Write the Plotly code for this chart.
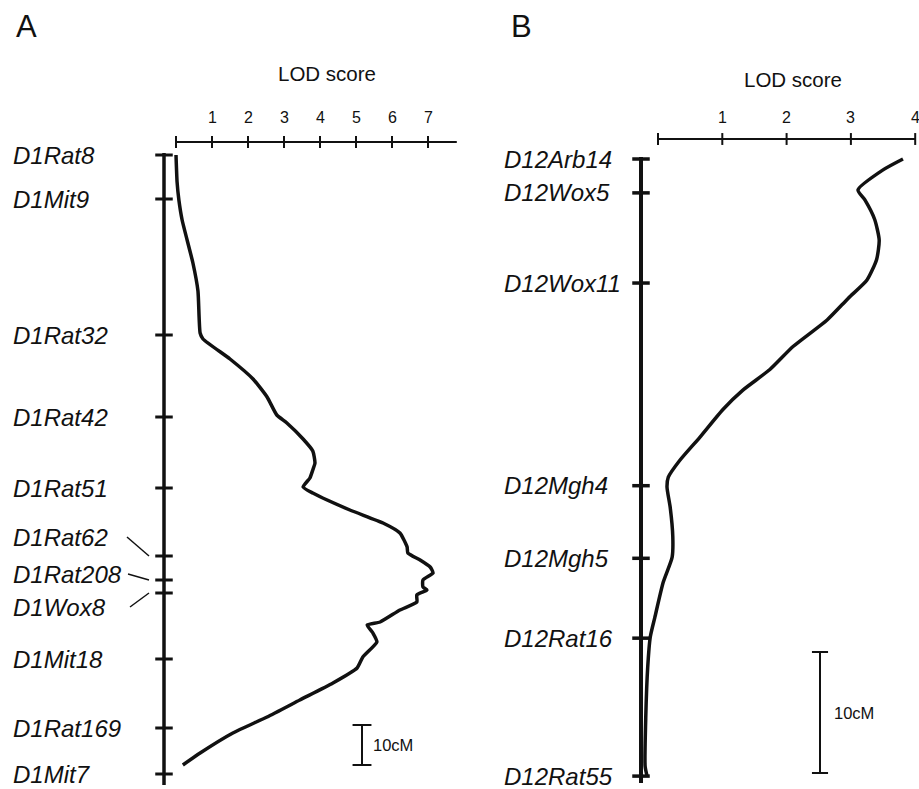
import plotly.graph_objects as go

# ---------------- data: panel A (chromosome 1) ----------------
markers_A = ["D1Rat8", "D1Mit9", "D1Rat32", "D1Rat42", "D1Rat51", "D1Rat62",
             "D1Rat208", "D1Wox8", "D1Mit18", "D1Rat169", "D1Mit7"]
marker_cM_A = [0, 11, 45, 65.5, 83.25, 100.25, 106.25, 109.5, 126, 143.25, 154.75]

curve_cM_A = [0, 6.75, 11.25, 16.25, 27, 34, 44.5, 46, 51, 56, 60.5, 65, 67, 71, 74, 77,
              78.75, 80.75, 83, 84.5, 88.75, 92, 94.5, 98, 99.5, 101.25, 103, 104.5,
              106.25, 108, 108.75, 110, 111.75, 113.75, 116.75, 117.5, 119.5, 121.75,
              125.5, 128.25, 132, 136.25, 140.5, 144.5, 149.5, 152.5]
curve_lod_A = [0.0, 0.03, 0.08, 0.17, 0.47, 0.61, 0.67, 0.75, 1.5, 2.14, 2.53, 2.8, 3.08,
               3.53, 3.8, 3.86, 3.8, 3.72, 3.53, 3.8, 4.83, 5.75, 6.22, 6.42, 6.44, 6.78,
               7.06, 7.14, 6.86, 6.86, 6.97, 6.69, 6.69, 6.22, 5.67, 5.31, 5.47, 5.58,
               5.19, 5.03, 4.36, 3.44, 2.53, 1.58, 0.67, 0.19]
lod_ticks_A = [0, 1, 2, 3, 4, 5, 6, 7]
lod_ticklabels_A = ["", "1", "2", "3", "4", "5", "6", "7"]
lod_axis_max_A = 7.8

# ---------------- data: panel B (chromosome 12) ----------------
markers_B = ["D12Arb14", "D12Wox5", "D12Wox11", "D12Mgh4", "D12Mgh5", "D12Rat16", "D12Rat55"]
marker_cM_B = [0, 2.8, 10.25, 27, 33, 39.6, 51]

curve_cM_B = [0, 0.9, 2.56, 3.4, 5.0, 6.7, 8.3, 10, 11.5, 13.3, 15.5, 17.4, 19.1, 20.7,
              23, 24.9, 26.3, 27.1, 28.8, 31.2, 32.9, 35, 37.9, 39.5, 42, 46.1, 50.2, 51]
curve_lod_B = [3.81, 3.5, 3.11, 3.22, 3.37, 3.44, 3.4, 3.25, 2.96, 2.63, 2.1, 1.74, 1.32,
               1.01, 0.65, 0.34, 0.16, 0.14, 0.19, 0.23, 0.22, 0.08, -0.05, -0.12, -0.16,
               -0.19, -0.2, -0.17]
lod_ticks_B = [0, 1, 2, 3, 4]
lod_ticklabels_B = ["", "1", "2", "3", "4"]
lod_axis_max_B = 4.0

scale_cM = 10

# ---------------- layout geometry (pixels) ----------------
W, H = 919, 789
FONT = "Liberation Sans, Arial, Helvetica, sans-serif"

# panel A mapping: LOD 0 at px 176, 36 px per LOD; cM 0 at px 155, 4 px per cM
A_X0, A_SX, A_Y0, A_SY = 176, 36.0, 155, 4.0
# panel B mapping: LOD 0 at px 658, 64.3 px per LOD; cM 0 at px 159, 12.1 px per cM
B_X0, B_SX, B_Y0, B_SY = 658, 64.3, 159, 12.1


def ax(px): return (px - A_X0) / A_SX
def ay(py): return (py - A_Y0) / A_SY
def bx(px): return (px - B_X0) / B_SX
def by(py): return (py - B_Y0) / B_SY


fig = go.Figure()
BLACK = "#111111"


def line(xs, ys, width, xa, ya, color=BLACK, shape="linear", smoothing=None):
    ld = dict(color=color, width=width, shape=shape)
    if smoothing is not None:
        ld["smoothing"] = smoothing
    fig.add_trace(go.Scatter(x=xs, y=ys, mode="lines", xaxis=xa, yaxis=ya,
                             line=ld, hoverinfo="skip",
                             showlegend=False, cliponaxis=False))


def ticks(xs, ys, symbol, size, width, xa, ya):
    fig.add_trace(go.Scatter(x=xs, y=ys, mode="markers", xaxis=xa, yaxis=ya,
                             marker=dict(symbol=symbol, size=size,
                                         line=dict(color=BLACK, width=width)),
                             hoverinfo="skip", showlegend=False, cliponaxis=False))


annotations = []


def text(x, y, s, size, xa, ya, xanchor="center", italic=False):
    annotations.append(dict(x=x, y=y, xref=xa, yref=ya, text=s, showarrow=False,
                            xanchor=xanchor, yanchor="middle",
                            font=dict(family=FONT, size=size, color=BLACK,
                                      style="italic" if italic else "normal")))


# ======== Panel A ========
chromA = ax(164)
line([chromA, chromA], [ay(153), ay(785)], 3.5, "x", "y")
ticks([chromA] * len(marker_cM_A), marker_cM_A, "line-ew", 12.5, 3, "x", "y")

# LOD axis
yA_axis = ay(142)
line([0, lod_axis_max_A], [yA_axis, yA_axis], 2, "x", "y")
ticks(lod_ticks_A, [yA_axis] * len(lod_ticks_A), "line-ns", 8.5, 2, "x", "y")
for v, t in zip(lod_ticks_A, lod_ticklabels_A):
    if t:
        text(v, ay(117.5), t, 16, "x", "y")
text(ax(327), ay(73.5), "LOD score", 20.5, "x", "y")

# curve
line(curve_lod_A, curve_cM_A, 3.5, "x", "y", shape="spline", smoothing=0.5)

# marker labels (some shifted with leader lines)
label_shift_A = {"D1Rat62": ay(537), "D1Rat208": ay(574), "D1Wox8": ay(607)}
for name, cm in zip(markers_A, marker_cM_A):
    ly = label_shift_A.get(name, cm)
    text(ax(11), ly, name, 24, "x", "y", xanchor="left", italic=True)
    if name in label_shift_A:
        start_px = {"D1Rat62": 127, "D1Rat208": 128, "D1Wox8": 130}[name]
        line([ax(start_px), ax(149)], [ly, cm], 1.5, "x", "y")

# scale bar
sbA_x = ax(362)
sbA_y0 = ay(725)
line([sbA_x, sbA_x], [sbA_y0, sbA_y0 + scale_cM], 2, "x", "y")
ticks([sbA_x, sbA_x], [sbA_y0, sbA_y0 + scale_cM], "line-ew", 13.5, 2, "x", "y")
text(ax(371), sbA_y0 + scale_cM / 2, "10cM", 16.5, "x", "y", xanchor="left")

# ======== Panel B ========
chromB = bx(641)
line([chromB, chromB], [by(157), by(783)], 4, "x2", "y2")
ticks([chromB] * len(marker_cM_B), marker_cM_B, "line-ew", 12.5, 3.5, "x2", "y2")

yB_axis = by(139)
line([0, lod_axis_max_B], [yB_axis, yB_axis], 2, "x2", "y2")
ticks(lod_ticks_B, [yB_axis] * len(lod_ticks_B), "line-ns", 8.5, 2, "x2", "y2")
for v, t in zip(lod_ticks_B, lod_ticklabels_B):
    if t:
        text(v, by(117.5), t, 16, "x2", "y2")
text(bx(793), by(79), "LOD score", 20.5, "x2", "y2")

line(curve_lod_B, curve_cM_B, 3.5, "x2", "y2", shape="spline", smoothing=0.6)

for name, cm in zip(markers_B, marker_cM_B):
    text(bx(502), cm, name, 24, "x2", "y2", xanchor="left", italic=True)

sbB_x = bx(820)
sbB_y0 = by(652)
line([sbB_x, sbB_x], [sbB_y0, sbB_y0 + scale_cM], 2, "x2", "y2")
ticks([sbB_x, sbB_x], [sbB_y0, sbB_y0 + scale_cM], "line-ew", 11.5, 2, "x2", "y2")
text(bx(832), sbB_y0 + scale_cM / 2, "10cM", 16.5, "x2", "y2", xanchor="left")

# panel letters
annotations.append(dict(x=26.5 / W, y=1 - 27 / H, xref="paper", yref="paper", text="A",
                        showarrow=False, xanchor="center", yanchor="middle",
                        font=dict(family=FONT, size=31, color=BLACK)))
annotations.append(dict(x=521.5 / W, y=1 - 27 / H, xref="paper", yref="paper", text="B",
                        showarrow=False, xanchor="center", yanchor="middle",
                        font=dict(family=FONT, size=31, color=BLACK)))

half = 459.5
fig.update_layout(
    width=W, height=H,
    margin=dict(l=0, r=0, t=0, b=0, pad=0),
    paper_bgcolor="white", plot_bgcolor="white",
    showlegend=False,
    xaxis=dict(domain=[0, half / W], range=[ax(0), ax(half)], visible=False, fixedrange=True),
    yaxis=dict(domain=[0, 1], range=[ay(H), ay(0)], visible=False, fixedrange=True),
    xaxis2=dict(domain=[half / W, 1], range=[bx(half), bx(W)], visible=False, fixedrange=True),
    yaxis2=dict(domain=[0, 1], range=[by(H), by(0)], visible=False, fixedrange=True,
                anchor="x2"),
    annotations=annotations,
)

fig.write_html("out.html", config={"displayModeBar": False},
               post_script="document.body.style.margin='0';document.body.style.overflow='hidden';")
